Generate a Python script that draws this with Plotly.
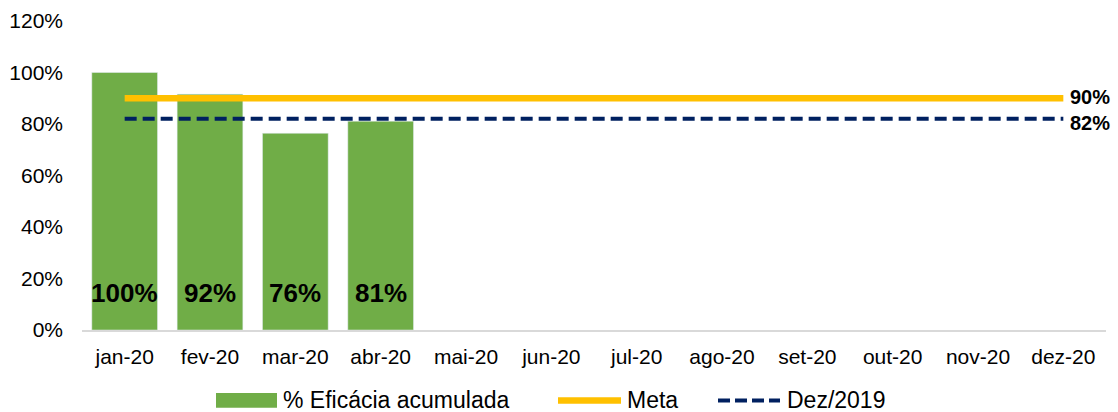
import plotly.graph_objects as go

months = ["jan-20", "fev-20", "mar-20", "abr-20", "mai-20", "jun-20",
          "jul-20", "ago-20", "set-20", "out-20", "nov-20", "dez-20"]
eficacia = [100, 91.6, 76.4, 81.1]
meta = [90] * 12
dez2019 = [82] * 12
y_ticks = [0, 20, 40, 60, 80, 100, 120]

GREEN = "#70AD47"
YELLOW = "#FFC000"
NAVY = "#002060"
FONT = "Liberation Sans, Arial, sans-serif"
FS = 21
LFS = 23

fig = go.Figure()
fig.add_trace(go.Bar(
    x=months[:len(eficacia)], y=eficacia, marker_color=GREEN,
    name="% Eficácia acumulada", showlegend=False, hoverinfo="x+y"))
fig.add_trace(go.Scatter(
    x=months, y=meta, mode="lines", name="Meta",
    line=dict(color=YELLOW, width=6.5), showlegend=False))
fig.add_trace(go.Scatter(
    x=months, y=dez2019, mode="lines", name="Dez/2019",
    line=dict(color=NAVY, width=4, dash="12px,6px"), showlegend=False))

# data labels near bar base
for m, v in zip(months, eficacia):
    fig.add_annotation(x=m, y=14.5, text=f"<b>{round(v)}%</b>", showarrow=False,
                       font=dict(size=26, color="black", family=FONT),
                       xanchor="center", yanchor="middle")

# right-side labels for lines (nudged apart slightly so they don't collide)
for val, shift in ((meta[-1], 1), (dez2019[-1], -4)):
    fig.add_annotation(x=0.964, xref="paper", y=val, yref="y", yshift=shift,
                       text=f"<b>{val}%</b>", showarrow=False, borderpad=0,
                       font=dict(size=20, color="black", family=FONT),
                       xanchor="left", yanchor="middle")

# custom legend (page px -> paper fractions; plot area spans x 82..1106)
def px(xp):
    return (xp - 82) / 1024

leg_y = -0.228
fig.add_shape(type="rect", xref="paper", yref="paper",
              x0=px(216), x1=px(277), y0=leg_y - 0.024, y1=leg_y + 0.024,
              fillcolor=GREEN, line_width=0)
fig.add_annotation(xref="paper", yref="paper", x=px(281), y=leg_y,
                   text="% Eficácia acumulada", showarrow=False, xanchor="left",
                   yanchor="middle", font=dict(size=LFS, color="black", family=FONT))
fig.add_shape(type="line", xref="paper", yref="paper",
              x0=px(558), x1=px(621), y0=leg_y, y1=leg_y,
              line=dict(color=YELLOW, width=6.5))
fig.add_annotation(xref="paper", yref="paper", x=px(625), y=leg_y,
                   text="Meta", showarrow=False, xanchor="left",
                   yanchor="middle", font=dict(size=LFS, color="black", family=FONT))
fig.add_shape(type="line", xref="paper", yref="paper",
              x0=px(718), x1=px(780), y0=leg_y, y1=leg_y,
              line=dict(color=NAVY, width=4, dash="12px,5px"))
fig.add_annotation(xref="paper", yref="paper", x=px(785), y=leg_y,
                   text="Dez/2019", showarrow=False, xanchor="left",
                   yanchor="middle", font=dict(size=LFS, color="black", family=FONT))

fig.update_layout(
    width=1118, height=412,
    margin=dict(l=82, r=12, t=21, b=82),
    plot_bgcolor="white", paper_bgcolor="white",
    bargap=0.23,
    font=dict(family=FONT, size=FS, color="black"),
    showlegend=False,
)
fig.update_xaxes(categoryorder="array", categoryarray=months,
                 range=[-0.5, 11.5], showline=True, linecolor="#D9D9D9",
                 linewidth=1.5, showgrid=False, ticks="", ticklabelstandoff=7,
                 automargin=False,
                 tickfont=dict(size=FS, family=FONT, color="black"))
fig.update_yaxes(range=[0, 120], tickvals=y_ticks,
                 ticktext=[f"{t}%" for t in y_ticks], showgrid=False,
                 zeroline=False, showline=False, ticks="", ticklabelstandoff=18,
                 automargin=False,
                 tickfont=dict(size=FS, family=FONT, color="black"))

fig.write_html(
    "out.html",
    config={"displayModeBar": False},
    post_script="document.body.style.margin='0';document.body.style.overflow='hidden';",
)
